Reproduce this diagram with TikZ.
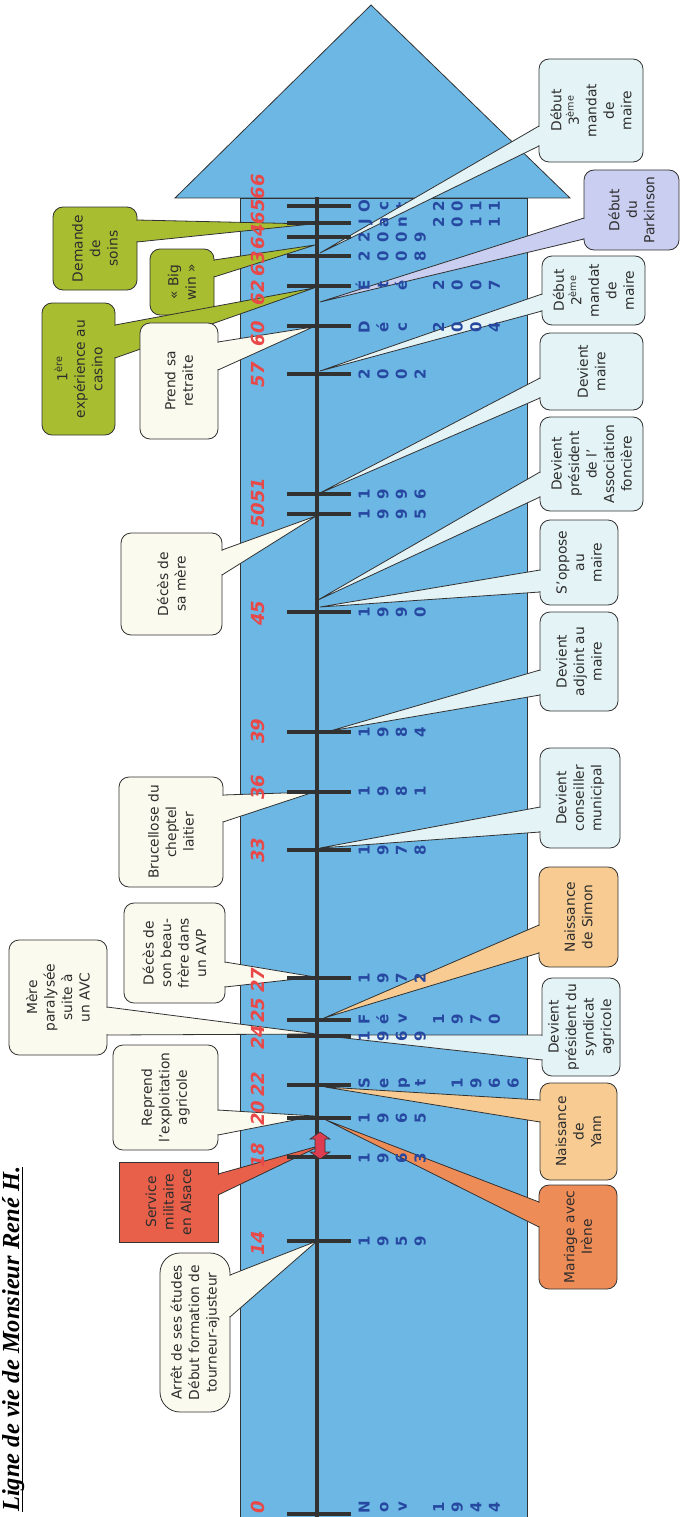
\documentclass[tikz,border=0pt]{standalone}
\usepackage{fontspec}
\setmainfont{DejaVu Sans}
\newfontfamily\titlefont{Liberation Serif}
\usetikzlibrary{calc}
\definecolor{shaftblue}{RGB}{108,183,228}
\definecolor{ink}{RGB}{50,50,50}
\definecolor{txt}{RGB}{45,45,45}
\definecolor{cgreen}{RGB}{168,190,48}
\definecolor{ccream}{RGB}{250,250,238}
\definecolor{clight}{RGB}{228,243,245}
\definecolor{clav}{RGB}{202,206,240}
\definecolor{corangelt}{RGB}{247,203,145}
\definecolor{corange}{RGB}{238,140,88}
\definecolor{cred}{RGB}{232,96,74}
\definecolor{dateblue}{RGB}{38,72,160}
\definecolor{agered}{RGB}{232,72,72}
\definecolor{arrowred}{RGB}{222,60,80}
\tikzset{
  boxtext/.style={rotate=90, align=center, text=txt, inner sep=0pt, font=\fontsize{13.8}{17.5}\selectfont},
  tickline/.style={draw=ink, line width=3.5pt},
  agelabel/.style={rotate=90, text=agered, inner sep=0pt, font=\bfseries\itshape\fontsize{18}{18}\selectfont},
  datechar/.style={rotate=90, text=dateblue, inner sep=0pt, anchor=mid, font=\bfseries\fontsize{15}{15}\selectfont},
  outline/.style={draw=ink, line width=0.8pt},
}
\newcommand\cpts[4]{\coordinate (#1-b1) at #2; \coordinate (#1-b2) at #3; \coordinate (#1-t) at #4;}
\newcommand\tlcallout[6][rounded corners=10pt]{%
  \fill[#3] (#2-t) -- (#2-b1) -- (#2-b2) -- cycle;
  \filldraw[fill=#3, outline, #1] #4 rectangle #5;
  \fill[#3] ($(#2-b1)!1pt!(#2-b2)+(-1.3pt,0)$) rectangle ($(#2-b2)!1pt!(#2-b1)+(1.3pt,0)$);
  \draw[outline, line join=round] (#2-b1) -- (#2-t) -- (#2-b2);
  \node[boxtext] (#2) at ($#4!0.5!#5$) {#6};
}
\newcommand\daterow[3]{%
  \foreach \c [count=\i from 0] in {#3} {\node[datechar] (#1-\i) at ({367+18.6*\i},#2) {\c};}
}
\begin{document}
\begin{tikzpicture}[x=1pt,y=-1pt]
\useasboundingbox (0,0) rectangle (680,1517);
\clip (0,0) rectangle (680,1517);
% background arrow
\filldraw[fill=shaftblue, outline] (240,198) rectangle (527,1530);
\filldraw[fill=shaftblue, outline, line join=miter] (175,198) -- (371,5) -- (570,198) -- cycle;
% title
\node[rotate=90, anchor=base west, inner sep=0pt, font=\titlefont\bfseries\itshape\fontsize{24.5}{29}\selectfont] (title) at (19,1512) {Ligne de vie de Monsieur René H.};
\draw[line width=1.2pt] ([xshift=3.5pt]title.base west) -- ([xshift=3.5pt]title.base east);
% date hidden under a wedge
\daterow{d66}{206}{O,c,t,{},2,0,1,1}
% callouts, left side
\cpts{soins}{(137,220)}{(137,242)}{(312,224)}
\tlcallout{soins}{cgreen}{(53,207)}{(137,290)}{Demande\\de\\soins}
\cpts{bigwin}{(214,260)}{(214,277)}{(315,245)}
\tlcallout{bigwin}{cgreen}{(150,249)}{(214,315)}{« Big\\win »}
\cpts{casino}{(115,325)}{(115,358)}{(314,288)}
\tlcallout{casino}{cgreen}{(42,303)}{(115,435)}{1\textsuperscript{ère}\\expérience au\\casino}
\cpts{retraite}{(218,342)}{(218,370)}{(313,327)}
\tlcallout{retraite}{ccream}{(140,323)}{(218,439)}{Prend sa\\retraite}
\cpts{mere}{(222,550)}{(222,575)}{(316,516)}
\tlcallout{mere}{ccream}{(121,533)}{(222,635)}{Décès de\\sa mère}
\cpts{brucellose}{(223,795)}{(223,822)}{(314,792)}
\tlcallout{brucellose}{ccream}{(119,777)}{(223,887)}{Brucellose du\\cheptel\\laitier}
\cpts{beaufrere}{(225,962)}{(225,987)}{(315,977)}
\tlcallout{beaufrere}{ccream}{(124,903)}{(225,1003)}{Décès de\\son beau-\\frère dans\\un AVP}
\cpts{avc}{(107,1007)}{(107,1035)}{(317,1034)}
\tlcallout{avc}{ccream}{(9,940)}{(107,1055)}{Mère\\paralysée\\suite à\\un AVC}
\cpts{reprend}{(218,1110)}{(218,1135)}{(315,1116)}
\tlcallout{reprend}{ccream}{(113,1045)}{(218,1150)}{Reprend\\l'exploitation\\agricole}
\cpts{service}{(218,1174)}{(218,1195)}{(322,1145)}
\tlcallout[sharp corners]{service}{cred}{(119,1162)}{(218,1242)}{Service\\militaire\\en Alsace}
\cpts{etudes}{(230,1275)}{(230,1317)}{(317,1241)}
\tlcallout[rounded corners=20pt]{etudes}{ccream}{(160,1253)}{(230,1412)}{Arrêt de ses études\\Début formation de\\tourneur-ajusteur}
% callouts, right side
\cpts{mandat3}{(539,126)}{(539,146)}{(320,253)}
\tlcallout{mandat3}{clight}{(539,59)}{(643,162)}{Début\\3\textsuperscript{ème}\\mandat\\de\\maire}
\cpts{parkinson}{(584,218)}{(584,239)}{(320,302)}
\tlcallout{parkinson}{clav}{(584,170)}{(679,250)}{Début\\du\\Parkinson}
\cpts{mandat2}{(542,294)}{(542,311)}{(320,371)}
\tlcallout{mandat2}{clight}{(542,256)}{(645,325)}{Début\\2\textsuperscript{ème}\\mandat\\de\\maire}
\cpts{maire}{(540,378)}{(540,398)}{(318,494)}
\tlcallout{maire}{clight}{(540,333)}{(643,410)}{Devient\\maire}
\cpts{association}{(540,472)}{(540,497)}{(318,600)}
\tlcallout{association}{clight}{(540,417)}{(643,511)}{Devient\\président\\de l'\\Association\\foncière}
\cpts{soppose}{(540,570)}{(540,592)}{(320,607)}
\tlcallout{soppose}{clight}{(540,520)}{(618,605)}{S'oppose\\au\\maire}
\cpts{adjoint}{(540,670)}{(540,695)}{(330,731)}
\tlcallout{adjoint}{clight}{(540,612)}{(618,711)}{Devient\\adjoint au\\maire}
\cpts{conseiller}{(540,807)}{(540,832)}{(320,848)}
\tlcallout{conseiller}{clight}{(540,748)}{(620,848)}{Devient\\conseiller\\municipal}
\cpts{simon}{(539,925)}{(539,953)}{(324,1018)}
\tlcallout{simon}{corangelt}{(539,867)}{(618,967)}{Naissance\\de Simon}
\cpts{syndicat}{(542,1035)}{(542,1060)}{(318,1035)}
\tlcallout{syndicat}{clight}{(542,978)}{(620,1076)}{Devient\\président du\\syndicat\\agricole}
\cpts{yann}{(540,1100)}{(540,1122)}{(325,1087)}
\tlcallout{yann}{corangelt}{(540,1083)}{(617,1180)}{Naissance\\de\\Yann}
\cpts{mariage}{(539,1202)}{(539,1227)}{(326,1120)}
\tlcallout{mariage}{corange}{(539,1185)}{(617,1289)}{Mariage avec\\Irène}
% axis and ticks
\draw[ink, line width=4.5pt] (317,197) -- (317,1525);
\foreach \y in {1514,1241,1157,1118,1085,1036,1020,978,850,792,732,612,514,494,374,326,286,256,237,223,206}
  \draw[tickline] (287,\y) -- (351,\y);
% military service double arrow
\filldraw[fill=arrowred, draw=ink, line width=0.6pt, line join=miter] (320,1132) -- (330,1139) -- (325,1139) -- (325,1152) -- (330,1152) -- (320,1159) -- (310,1152) -- (315,1152) -- (315,1139) -- (310,1139) -- cycle;
% ages
\foreach \a/\y in {0/1507,14/1243,18/1155,20/1113,22/1084,24/1037,25/1010,27/980,33/850,36/787,39/731,45/613,50/515,51/490,57/375,60/334,62/293,63/264,64/237,65/212,66/187}
  \node[agelabel] (age\a) at (258,\y) {\a};
% dates
\daterow{d0}{1507}{N,o,v,{},1,9,4,4}
\daterow{d14}{1241}{1,9,5,9}
\daterow{d18}{1158}{1,9,6,3}
\daterow{d20}{1118}{1,9,6,5}
\daterow{d22}{1083}{S,e,p,t,{},1,9,6,6}
\daterow{d24}{1036}{1,9,6,9}
\daterow{d25}{1019}{F,é,v,{},1,9,7,0}
\daterow{d27}{978}{1,9,7,2}
\daterow{d33}{850}{1,9,7,8}
\daterow{d36}{791}{1,9,8,1}
\daterow{d39}{732}{1,9,8,4}
\daterow{d45}{612}{1,9,9,0}
\daterow{d50}{514}{1,9,9,5}
\daterow{d51}{494}{1,9,9,6}
\daterow{d57}{374}{2,0,0,2}
\daterow{d60}{327}{D,é,c,{},2,0,0,4}
\daterow{d62}{285}{É,t,é,{},2,0,0,7}
\daterow{d63}{256}{2,0,0,8}
\daterow{d64}{237}{2,0,0,9}
\daterow{d65}{222}{J,a,n,{},2,0,1,1}
\end{tikzpicture}
\end{document}
